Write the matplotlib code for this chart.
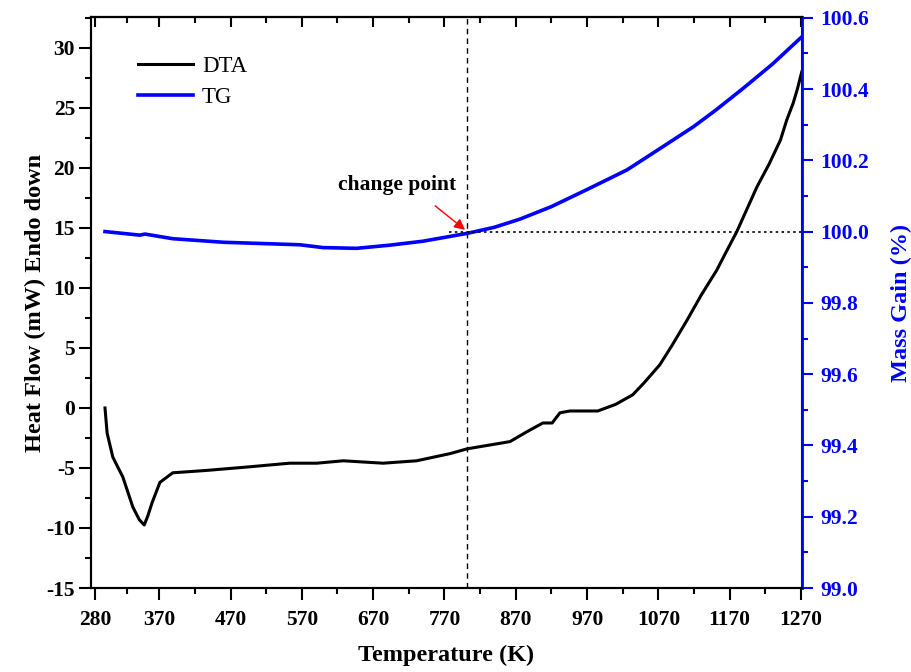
import numpy as np
import matplotlib
matplotlib.use("Agg")
import matplotlib.pyplot as plt
from matplotlib.ticker import FixedLocator, MultipleLocator, FormatStrFormatter

plt.rcParams['font.family'] = ['Liberation Serif', 'DejaVu Serif']
plt.rcParams['axes.unicode_minus'] = False

# DTA curve (heat flow, left axis)
dta_T = [294, 297, 305, 319, 333, 342, 349, 354, 360, 371, 389, 437, 497, 553, 591,
         628, 684, 731, 778, 802, 862, 885, 908, 921, 932, 946, 985, 1010, 1034,
         1050, 1072, 1090, 1110, 1130, 1152, 1165, 1180, 1208, 1225, 1241, 1250,
         1259, 1265, 1271]
dta_val = [0.0, -2.1, -4.1, -5.75, -8.25, -9.3, -9.75, -9.0, -7.9, -6.2, -5.4, -5.2,
           -4.9, -4.6, -4.6, -4.4, -4.6, -4.4, -3.8, -3.4, -2.8, -2.0, -1.25, -1.25,
           -0.4, -0.25, -0.25, 0.3, 1.1, 2.1, 3.6, 5.3, 7.3, 9.4, 11.5, 13.0, 14.7,
           18.4, 20.3, 22.3, 24.0, 25.4, 26.6, 28.0]

# TG curve (mass gain, right axis)
tg_T = [294, 343, 350, 389, 460, 567, 600, 647, 694, 740, 802, 840, 876, 920, 970,
        1026, 1070, 1119, 1150, 1189, 1230, 1272]
tg_val = [100.0, 99.99, 99.993, 99.98, 99.97, 99.963, 99.955, 99.953, 99.962,
          99.973, 99.995, 100.012, 100.035, 100.07, 100.118, 100.173, 100.23,
          100.294, 100.34, 100.402, 100.47, 100.548]

x_ticks = [280, 370, 470, 570, 670, 770, 870, 970, 1070, 1170, 1270]
x_minor = [325, 420, 520, 620, 720, 820, 920, 1020, 1120, 1220]
change_T = 802
change_tg = 100.0

fig = plt.figure(figsize=(9.12, 6.72), dpi=100)
ax = fig.add_axes([0.0998, 0.125, 0.7796, 0.8497])
ax2 = ax.twinx()

l1, = ax.plot(dta_T, dta_val, color='black', lw=2.2, label='DTA')
l2, = ax2.plot(tg_T, tg_val, color='blue', lw=2.6, label='TG')

ax.set_xlim(274.4, 1271.4)
ax.set_ylim(-15, 32.58)
ax2.set_ylim(99.0, 100.602)

# guide lines and annotation
ax.axvline(change_T, color='black', ls=(0, (4, 3)), lw=1.0)
ax2.plot([776, 1271.4], [change_tg, change_tg], color='black', ls=(0, (1.5, 2)), lw=1.2)
ax2.annotate('', xy=(change_T, change_tg), xytext=(754, 100.077),
             arrowprops=dict(arrowstyle='-|>', color='red', lw=1.0, mutation_scale=16))
ax2.text(703.5, 100.131, 'change point', ha='center', va='center',
         fontsize=15.5, fontweight='bold')

# x axis
ax.xaxis.set_major_locator(FixedLocator(x_ticks))
ax.xaxis.set_minor_locator(FixedLocator(x_minor))
ax.tick_params(axis='x', which='major', direction='out', length=8.5, width=1.5,
               labelsize=15.5, pad=7)
ax.tick_params(axis='x', which='minor', direction='out', length=4, width=1.5)
top = ax.secondary_xaxis('top')
top.xaxis.set_major_locator(FixedLocator(x_ticks))
top.xaxis.set_minor_locator(FixedLocator(x_minor))
top.tick_params(axis='x', which='major', direction='in', length=7.5, width=1.5,
                labeltop=False)
top.tick_params(axis='x', which='minor', direction='in', length=4, width=1.5)
top.spines['top'].set_linewidth(1.5)

# left y axis
ax.yaxis.set_major_locator(MultipleLocator(5))
ax.yaxis.set_minor_locator(MultipleLocator(2.5))
ax.tick_params(axis='y', which='major', direction='out', length=8.5, width=1.5,
               labelsize=15.5, pad=3)
ax.tick_params(axis='y', which='minor', direction='out', length=4.5, width=1.5)

# right y axis
ax2.yaxis.set_major_locator(MultipleLocator(0.2))
ax2.yaxis.set_minor_locator(MultipleLocator(0.1))
ax2.yaxis.set_major_formatter(FormatStrFormatter('%.1f'))
ax2.tick_params(axis='y', which='major', direction='out', length=8, width=1.5,
                labelsize=15.5, colors='blue', pad=5)
ax2.tick_params(axis='y', which='minor', direction='out', length=4.5, width=1.5,
                colors='blue')

for a in (ax, ax2):
    for s in a.spines.values():
        s.set_linewidth(1.5)
ax2.spines['right'].set_color('blue')
ax2.spines['right'].set_linewidth(2.0)

for lab in ax.get_xticklabels() + ax.get_yticklabels() + ax2.get_yticklabels():
    lab.set_fontweight('bold')

ax.set_xlabel('Temperature (K)', fontsize=17.5, fontweight='bold', labelpad=11)
ax.set_ylabel('Heat Flow (mW) Endo down', fontsize=17.5, fontweight='bold', labelpad=0)
ax2.set_ylabel('Mass Gain (%)', fontsize=17.5, fontweight='bold', color='blue', labelpad=16)

ax.legend([l1, l2], ['DTA', 'TG'], loc='upper left', bbox_to_anchor=(0.037, 0.968),
          frameon=False, fontsize=16.5, handlelength=2.4, labelspacing=0.45,
          handletextpad=0.4)

fig.savefig('out.png', dpi=100)
